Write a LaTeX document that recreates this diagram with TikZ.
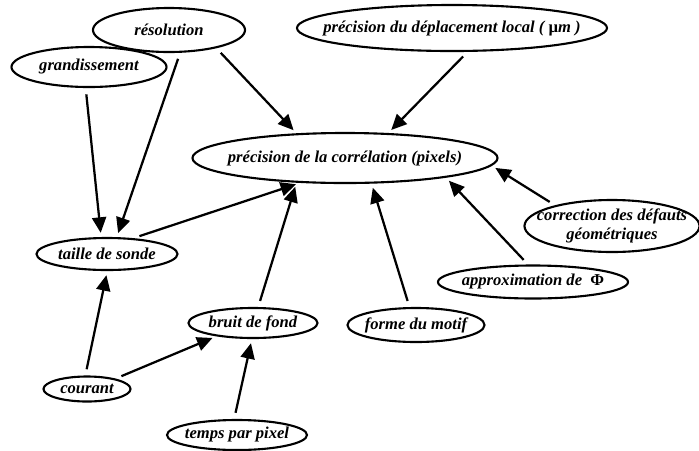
\documentclass[tikz,border=0pt]{standalone}
\usepackage{fontspec}
\setmainfont{Liberation Serif}
\usetikzlibrary{arrows.meta,shapes.geometric}

% texte sans largeur : l'ellipse prend sa taille des minimum width/height
\newcommand{\mot}[1]{\makebox[0pt]{#1}}

\begin{document}
\begin{tikzpicture}[
            x=0.025cm, y=-0.025cm,
            bulle/.style={ellipse, draw, line width=1.5pt, inner sep=0pt, font=\bfseries\itshape\fontsize{11.8}{13.5}\selectfont},
            arrow/.style={-{Triangle[length=11pt,width=10pt]}, line width=1.6pt, shorten <=4.5pt, shorten >=3pt}
        ]
            \useasboundingbox (0,0) rectangle (699,450);

            % --- CENTRE ---
            \node[bulle, minimum width=7.625cm, minimum height=1.25cm] (correlation) at (345,158) {\mot{précision de la corrélation (pixels)}};

            % --- HAUT ---
            \node[bulle, minimum width=3.8cm, minimum height=1.1cm] (resolution) at (169,30) {\mot{résolution}};
            \node[bulle, minimum width=3.875cm, minimum height=1.0cm] (grandissement) at (89,67) {\mot{grandissement}};
            \node[bulle, minimum width=7.75cm, minimum height=1.15cm] (deplacement) at (452,28) {\mot{précision du déplacement local ( {\upshape µ}m )}};

            % --- GAUCHE ---
            \node[bulle, minimum width=3.525cm, minimum height=0.8cm] (taille) at (107,254) {\mot{taille de sonde}};
            \node[bulle, minimum width=2.175cm, minimum height=0.625cm] (courant) at (87,389) {\mot{courant}};
            \node[bulle, minimum width=3.225cm, minimum height=0.75cm] (bruit) at (253,323) {\mot{bruit de fond}};
            \node[bulle, minimum width=3.5cm, minimum height=0.75cm] (temps) at (237,435) {\mot{temps par pixel}};

            % --- DROITE ---
            \node[bulle, minimum width=3.425cm, minimum height=0.85cm] (forme) at (416,325) {\mot{forme du motif}};
            \node[bulle, minimum width=4.75cm, minimum height=0.825cm] (approx) at (533,282) {\mot{approximation de \ {\upshape Φ}}};
            \node[bulle, minimum width=4.375cm, minimum height=1.3cm] (defauts) at (612,226) {\mot{\shortstack{correction des défauts\\géométriques}}};

            % --- LIAISONS ---
            \draw[arrow] (resolution.-21) -- (correlation.153);
            \draw[arrow] (deplacement.-57) -- (correlation.30);
            \draw[arrow] (grandissement.261) -- (taille.109);
            \draw[arrow] (resolution.-64) -- (taille.60);
            \draw[arrow] (taille.31) -- (correlation.209);
            \draw[arrow] (bruit.72) -- (correlation.207);
            \draw[arrow] (forme.110) -- (correlation.-44);
            \draw[arrow] (approx.106) -- (correlation.-11);
            \draw[arrow] (defauts.160) -- (correlation.-3);

            % vers taille de sonde et bruit de fond
            \draw[arrow] (courant.97) -- (taille.-89);
            \draw[arrow] (courant.20) -- (bruit.200);
            \draw[arrow] (temps.100) -- (bruit.-94);

        \end{tikzpicture}
\end{document}
